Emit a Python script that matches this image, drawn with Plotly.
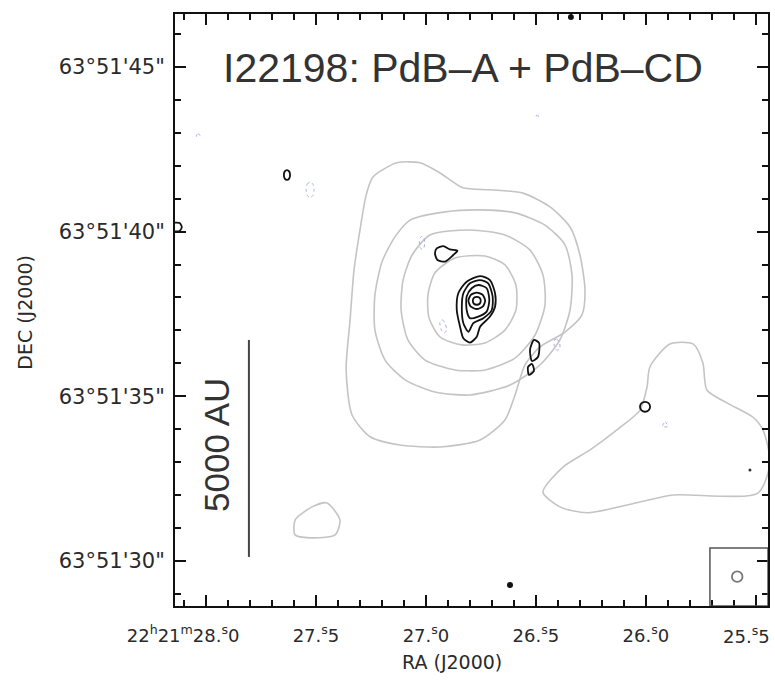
import plotly.graph_objects as go

# ---------------- PdB-A (low resolution, gray) contours : RA seconds (22h21m..), Dec arcsec (63d51'..)
a1_ra = [27.241, 27.132, 27.027, 26.936, 26.832, 26.709, 26.559, 26.436, 26.345, 26.300, 26.277, 26.291,
         26.368, 26.482, 26.550, 26.595, 26.641, 26.754, 26.936, 27.118, 27.254, 27.336, 27.363, 27.345,
         27.327, 27.300, 27.272, 27.241]
a1_dec = [41.66, 42.09, 42.09, 41.78, 41.33, 41.27, 41.17, 40.75, 40.14, 39.29, 38.23, 37.47,
          36.95, 36.50, 35.95, 35.04, 34.28, 33.67, 33.46, 33.52, 33.77, 34.43, 35.80, 37.32,
          38.84, 40.05, 41.11, 41.66]

a2_ra = [27.072, 26.913, 26.754, 26.595, 26.459, 26.368, 26.336, 26.345, 26.391, 26.482, 26.618, 26.800,
         26.959, 27.095, 27.186, 27.232, 27.232, 27.200, 27.141, 27.072]
a2_dec = [40.35, 40.60, 40.66, 40.57, 40.20, 39.60, 38.68, 37.62, 36.71, 35.95, 35.34, 35.04,
          35.13, 35.50, 36.10, 37.01, 38.08, 39.08, 39.84, 40.35]

a3_ra = [26.982, 26.800, 26.641, 26.527, 26.468, 26.459, 26.504, 26.595, 26.732, 26.868, 27.004, 27.082,
         27.113, 27.104, 27.063, 26.982]
a3_dec = [39.90, 40.05, 39.90, 39.44, 38.68, 37.77, 36.86, 36.16, 35.80, 35.80, 36.10, 36.71,
          37.62, 38.53, 39.29, 39.90]

a4_ra = [26.868, 26.732, 26.641, 26.591, 26.591, 26.641, 26.732, 26.836, 26.936, 26.986, 26.991, 26.959, 26.868]
a4_dec = [39.20, 39.26, 38.99, 38.38, 37.62, 37.01, 36.62, 36.56, 36.80, 37.38, 38.08, 38.75, 39.20]

a5_ra = [25.891, 25.786, 25.741, 25.723, 25.632, 25.514, 25.468, 25.436, 25.491, 25.877, 26.027, 26.268,
         26.391, 26.468, 26.377, 26.254, 26.132, 26.027, 25.995, 25.982, 25.891]
a5_dec = [36.59, 36.59, 36.01, 35.19, 34.80, 34.37, 33.98, 32.98, 32.06, 32.00, 31.79, 31.46,
          31.64, 32.09, 32.85, 33.37, 33.98, 34.58, 35.28, 35.89, 36.59]

a6_ra = [27.595, 27.518, 27.450, 27.391, 27.413, 27.527, 27.595, 27.595]
a6_dec = [31.24, 31.64, 31.76, 31.24, 30.79, 30.70, 30.79, 31.24]

# ---------------- PdB-CD (high resolution, black) contours
b1_ra = [26.754, 26.709, 26.686, 26.686, 26.709, 26.754, 26.769, 26.800, 26.830, 26.845, 26.860, 26.853, 26.815, 26.754]
b1_dec = [38.65, 38.53, 38.13, 37.72, 37.42, 37.11, 36.81, 36.63, 36.76, 37.11, 37.62, 38.13, 38.48, 38.65]

b2_ra = [26.754, 26.717, 26.697, 26.701, 26.739, 26.785, 26.807, 26.830, 26.837, 26.830, 26.800, 26.754]
b2_dec = [38.53, 38.43, 38.03, 37.62, 37.37, 37.22, 36.96, 37.22, 37.72, 38.13, 38.43, 38.53]

b3_ra = [26.762, 26.724, 26.712, 26.724, 26.762, 26.800, 26.815, 26.815, 26.792, 26.762]
b3_dec = [38.38, 38.28, 37.92, 37.57, 37.42, 37.37, 37.62, 38.03, 38.28, 38.38]

b4_ra = [26.731, 26.742, 26.769, 26.796, 26.807, 26.796, 26.769, 26.742, 26.731]
b4_dec = [37.90, 38.08, 38.15, 38.08, 37.90, 37.72, 37.65, 37.72, 37.90]

b5_ra = [26.751, 26.756, 26.769, 26.782, 26.787, 26.782, 26.769, 26.756, 26.751]
b5_dec = [37.90, 37.99, 38.02, 37.99, 37.90, 37.81, 37.78, 37.81, 37.90]

b6_ra = [26.951, 26.921, 26.891, 26.857, 26.876, 26.913, 26.948, 26.959, 26.951]
b6_dec = [39.49, 39.56, 39.46, 39.42, 39.29, 39.09, 39.14, 39.34, 39.49]

b7_ra = [26.509, 26.486, 26.491, 26.518, 26.527, 26.509]
b7_dec = [36.71, 36.62, 36.19, 36.07, 36.41, 36.71]

b8_ra = [26.536, 26.518, 26.509, 26.532, 26.536]
b8_dec = [35.89, 35.98, 35.77, 35.65, 35.89]

b9_ra = [26.027, 26.020, 26.004, 25.988, 25.981, 25.988, 26.004, 26.020, 26.027]
b9_dec = [34.68, 34.79, 34.83, 34.79, 34.68, 34.57, 34.53, 34.57, 34.68]

b10_ra = [27.646, 27.642, 27.632, 27.622, 27.618, 27.622, 27.632, 27.642, 27.646]
b10_dec = [41.72, 41.83, 41.87, 41.83, 41.72, 41.61, 41.57, 41.61, 41.72]

b11_ra = [28.145, 28.120, 28.110, 28.120, 28.145]
b11_dec = [40.27, 40.26, 40.14, 40.02, 40.01]

# isolated compact black peaks
dot_ra = [26.341, 26.618]
dot_dec = [46.52, 29.27]
tiny_ra = [25.527]
tiny_dec = [32.76]

# ---------------- negative contours (dotted, blue)
n1_ra = [27.545, 27.540, 27.527, 27.514, 27.509, 27.514, 27.527, 27.540, 27.545]
n1_dec = [41.27, 41.44, 41.51, 41.44, 41.27, 41.10, 41.03, 41.10, 41.27]
n2_ra = [27.030, 27.027, 27.018, 27.009, 27.006, 27.009, 27.018, 27.027, 27.030]
n2_dec = [39.66, 39.80, 39.86, 39.80, 39.66, 39.52, 39.46, 39.52, 39.66]
n3_ra = [26.937, 26.925, 26.912, 26.907, 26.918, 26.930, 26.937]
n3_dec = [37.25, 37.32, 37.20, 37.00, 36.92, 37.02, 37.25]
n4_ra = [26.418, 26.405, 26.392, 26.392, 26.405, 26.416, 26.418]
n4_dec = [36.70, 36.74, 36.60, 36.45, 36.40, 36.52, 36.70]
n5_ra = [25.925, 25.913, 25.900, 25.925]
n5_dec = [34.08, 34.22, 34.08, 34.08]
n6_ra = [28.045, 28.036, 28.027, 28.045]
n6_dec = [42.90, 42.98, 42.92, 42.90]
n7_ra = [26.500, 26.495, 26.488, 26.500]
n7_dec = [43.48, 43.55, 43.49, 43.48]

# ---------------- axes
ra_ticks = [28.0, 27.5, 27.0, 26.5, 26.0, 25.5]
ra_labels = ["22<sup>h</sup>21<sup>m</sup>28.<sup>s</sup>0" + "\u00a0" * 8,
             "27.<sup>s</sup>5", "27.<sup>s</sup>0", "26.<sup>s</sup>5", "26.<sup>s</sup>0",
             "25.<sup>s</sup>5"]
dec_ticks = [30, 35, 40, 45]
dec_labels = ["63°51'30\"", "63°51'35\"", "63°51'40\"", "63°51'45\""]

ra_range = [28.141, 25.445]
dec_range = [28.63, 46.61]

# scale bar and beam
scalebar_ra = 27.805
scalebar_dec = [30.12, 36.71]
scalebar_label = "5000 AU"
beam_box_ra = 25.709
beam_box_dec = 30.39
beam_ra = 25.585
beam_dec = 29.52
beam_r_ra = 0.024
beam_r_dec = 0.16

title_text = "I22198: PdB\u2013A + PdB\u2013CD"

fig = go.Figure()

def add_contour(ra, dec, color, width, dash="solid", smooth=0.7):
    fig.add_trace(go.Scatter(x=ra, y=dec, mode="lines",
                             line=dict(color=color, width=width, dash=dash, shape="spline", smoothing=smooth),
                             hoverinfo="skip", showlegend=False))

gray = "#c4c4c4"
for ra, dec in [(a1_ra, a1_dec), (a2_ra, a2_dec), (a3_ra, a3_dec), (a4_ra, a4_dec),
                (a5_ra, a5_dec), (a6_ra, a6_dec)]:
    add_contour(ra, dec, gray, 1.6)

blue = "#a8a8f0"
for ra, dec in [(n1_ra, n1_dec), (n2_ra, n2_dec), (n3_ra, n3_dec), (n4_ra, n4_dec),
                (n5_ra, n5_dec), (n6_ra, n6_dec), (n7_ra, n7_dec)]:
    add_contour(ra, dec, blue, 1.0, dash="dot")

for ra, dec in [(b1_ra, b1_dec), (b2_ra, b2_dec), (b3_ra, b3_dec), (b4_ra, b4_dec), (b5_ra, b5_dec),
                (b6_ra, b6_dec), (b7_ra, b7_dec), (b8_ra, b8_dec), (b9_ra, b9_dec), (b10_ra, b10_dec),
                (b11_ra, b11_dec)]:
    add_contour(ra, dec, "#111111", 1.8)

fig.add_trace(go.Scatter(x=dot_ra, y=dot_dec, mode="markers",
                         marker=dict(color="#111111", size=6), hoverinfo="skip", showlegend=False))
fig.add_trace(go.Scatter(x=tiny_ra, y=tiny_dec, mode="markers",
                         marker=dict(color="#333333", size=3), hoverinfo="skip", showlegend=False))

# scale bar
fig.add_trace(go.Scatter(x=[scalebar_ra, scalebar_ra], y=scalebar_dec, mode="lines",
                         line=dict(color="#444444", width=2), hoverinfo="skip", showlegend=False))

# beam box and beam
fig.add_shape(type="rect", xref="x", yref="y", x0=beam_box_ra, x1=ra_range[1], y0=dec_range[0], y1=beam_box_dec,
              line=dict(color="#555555", width=1.5))
fig.add_shape(type="circle", xref="x", yref="y",
              x0=beam_ra + beam_r_ra, x1=beam_ra - beam_r_ra, y0=beam_dec - beam_r_dec, y1=beam_dec + beam_r_dec,
              line=dict(color="#777777", width=1.8))

font_main = "Liberation Sans, Arial, sans-serif"
font_wide = "DejaVu Sans, Verdana, sans-serif"
txt_color = "#2a2a2a"

fig.add_annotation(x=0.486, y=0.909, xref="paper", yref="paper", text=title_text, showarrow=False,
                   font=dict(family=font_main, size=41, color="#333333"), xanchor="center", yanchor="middle")
fig.add_annotation(x=27.950, y=33.52, xref="x", yref="y", text=scalebar_label, showarrow=False, textangle=-90,
                   font=dict(family=font_main, size=35, color="#333333"), xanchor="center", yanchor="middle")
fig.add_annotation(x=0.467, y=-0.0946, xref="paper", yref="paper", text="RA (J2000)", showarrow=False,
                   font=dict(family=font_wide, size=19, color=txt_color), xanchor="center", yanchor="middle")
fig.add_annotation(x=-0.253, y=0.497, xref="paper", yref="paper", text="DEC (J2000)", showarrow=False,
                   textangle=-90, font=dict(family=font_wide, size=19, color=txt_color),
                   xanchor="center", yanchor="middle")
# last RA tick label, nudged left so that it stays inside the page like the reference
fig.add_annotation(x=ra_ticks[-1], y=-0.049, xref="x", yref="paper", text=ra_labels[-1], showarrow=False,
                   xshift=-9, font=dict(family=font_wide, size=18, color=txt_color),
                   xanchor="center", yanchor="middle")

axis_common = dict(showline=True, linecolor="#111111", linewidth=2, mirror="ticks", ticks="inside",
                   tickcolor="#111111", tickwidth=1.5, ticklen=11, showgrid=False, zeroline=False,
                   automargin=False, ticklabeloverflow="allow")

fig.update_layout(
    width=775, height=687,
    margin=dict(l=175, r=7, t=14, b=81, autoexpand=False),
    paper_bgcolor="white", plot_bgcolor="white",
    xaxis=dict(range=ra_range, tickmode="array", tickvals=ra_ticks, ticktext=ra_labels[:-1] + [""],
               minor=dict(tickmode="linear", tick0=25.0, dtick=0.1, ticks="inside", ticklen=6,
                          tickcolor="#111111", tickwidth=1.5),
               ticklabelstandoff=12,
               tickfont=dict(family=font_wide, size=18, color=txt_color), **axis_common),
    yaxis=dict(range=dec_range, tickmode="array", tickvals=dec_ticks, ticktext=dec_labels,
               minor=dict(tickmode="linear", tick0=0, dtick=1, ticks="inside", ticklen=6,
                          tickcolor="#111111", tickwidth=1.5),
               ticklabelstandoff=4,
               tickfont=dict(family=font_wide, size=21, color=txt_color), **axis_common),
)

fig.write_html("out.html")
